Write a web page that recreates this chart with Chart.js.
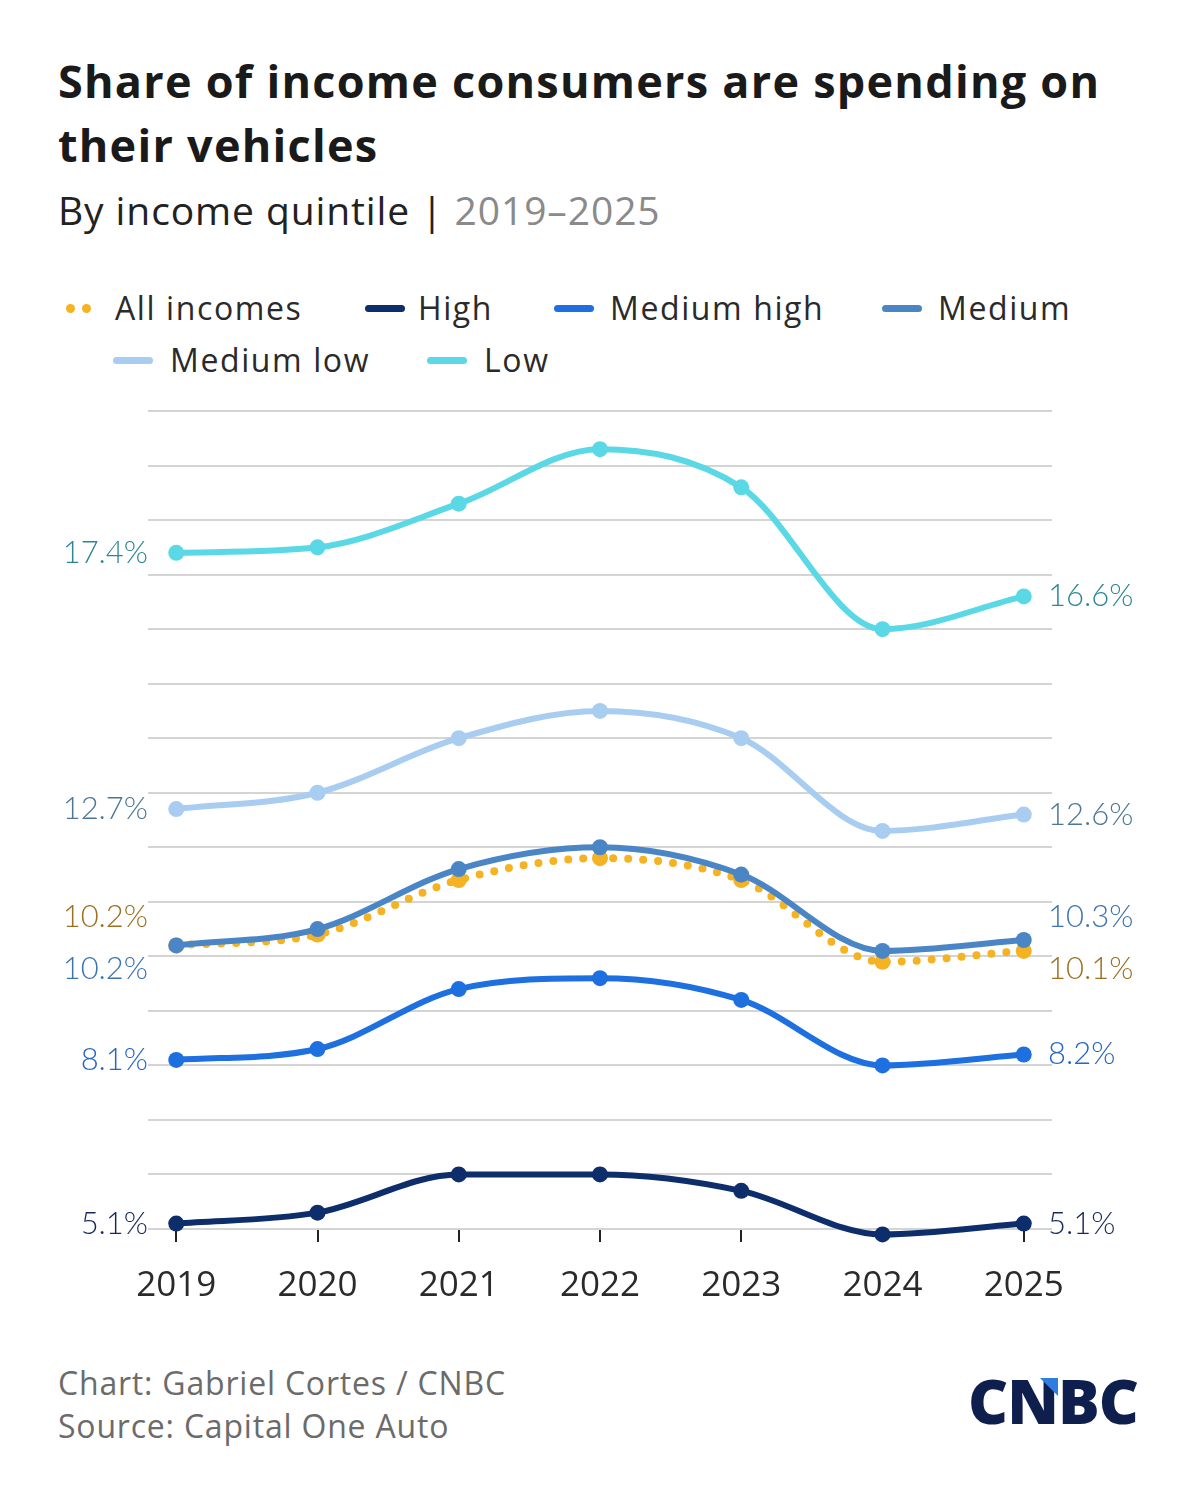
<!DOCTYPE html>
<html>
<head>
<meta charset="utf-8">
<script src="https://cdn.jsdelivr.net/npm/chart.js@4.4.1/dist/chart.umd.min.js"></script>
<style>
  body { margin: 0; background: #fff; font-family: "Open Sans", "Lato", sans-serif; }
  #page { position: relative; width: 1200px; height: 1507px; overflow: hidden; }
  .title { position: absolute; left: 58px; top: 49px; font-size: 45px; font-weight: 700; color: #1a1a1a; line-height: 64px; letter-spacing: 1.25px; white-space: nowrap; }
  .sub { position: absolute; left: 58px; top: 183px; font-size: 39px; color: #222; letter-spacing: 0.9px; white-space: nowrap; }
  .sub span { color: #8a8a8a; }
  .leg { position: absolute; font-size: 32px; color: #2a2a2a; white-space: nowrap; letter-spacing: 1.6px; }
  .sw { position: absolute; height: 7px; border-radius: 4px; width: 40px; }
  .dot { position: absolute; width: 9px; height: 9px; border-radius: 50%; background: #f5b323; }
  #wrap { position: absolute; left: 0; top: 380px; width: 1200px; height: 940px; }
  .foot { position: absolute; left: 58px; font-size: 32px; color: #6b6b6b; letter-spacing: 0.8px; white-space: nowrap; }
  .logo { position: absolute; left: 968px; top: 1358px; font-size: 62px; font-weight: 800; color: #0f1f4d; letter-spacing: -1px; }
  .tri { position: absolute; left: 1040px; top: 1378px; width: 0; height: 0; border-left: 18px solid transparent; border-top: 18px solid #2f7de1; }
</style>
</head>
<body>
<div id="page">
  <div class="title">Share of income consumers are spending on<br>their vehicles</div>
  <div class="sub">By income quintile | <span>2019–2025</span></div>

  <div class="dot" style="left:66px;top:304px"></div>
  <div class="dot" style="left:82px;top:304px"></div>
  <div class="leg" style="left:115px;top:286px">All incomes</div>
  <div class="sw" style="left:365px;top:305px;background:#0e2d6b"></div>
  <div class="leg" style="left:418px;top:286px">High</div>
  <div class="sw" style="left:554px;top:305px;background:#1e6fe0"></div>
  <div class="leg" style="left:610px;top:286px">Medium high</div>
  <div class="sw" style="left:882px;top:305px;background:#4a86c5"></div>
  <div class="leg" style="left:938px;top:286px">Medium</div>
  <div class="sw" style="left:113px;top:357px;background:#a8cdf0"></div>
  <div class="leg" style="left:170px;top:338px">Medium low</div>
  <div class="sw" style="left:427px;top:357px;background:#5ad8e6"></div>
  <div class="leg" style="left:484px;top:338px">Low</div>

  <div id="wrap"><canvas id="myChart"></canvas></div>

  <div class="foot" style="top:1361px">Chart: Gabriel Cortes / CNBC</div>
  <div class="foot" style="top:1404px">Source: Capital One Auto</div>
  <div class="logo">CNBC</div>
  <div class="tri"></div>
</div>
<script>
const years = [2019, 2020, 2021, 2022, 2023, 2024, 2025];
const allIncomes = [10.2, 10.4, 11.4, 11.8, 11.4, 9.9, 10.1];
const high = [5.1, 5.3, 6.0, 6.0, 5.7, 4.9, 5.1];
const mediumHigh = [8.1, 8.3, 9.4, 9.6, 9.2, 8.0, 8.2];
const medium = [10.2, 10.5, 11.6, 12.0, 11.5, 10.1, 10.3];
const mediumLow = [12.7, 13.0, 14.0, 14.5, 14.0, 12.3, 12.6];
const low = [17.4, 17.5, 18.3, 19.3, 18.6, 16.0, 16.6];

function pts(values) {
  return values.map((v, i) => ({ x: years[i], y: v }));
}

function series(label, values, color, labelColor, leftDy, rightDy, extra) {
  return Object.assign({
    label: label,
    data: pts(values),
    borderColor: color,
    backgroundColor: color,
    borderWidth: 6,
    pointRadius: 8,
    pointHoverRadius: 8,
    pointBorderWidth: 0,
    cubicInterpolationMode: "monotone",
    clip: false,
    order: 1,
    endLabels: { color: labelColor, left: leftDy, right: rightDy },
  }, extra || {});
}

// value labels at both ends of every line
const endLabelPlugin = {
  id: "endLabels",
  afterDatasetsDraw(chart) {
    const c = chart.ctx;
    c.save();
    c.font = "300 31px Lato, 'Open Sans', sans-serif";
    c.textBaseline = "middle";
    chart.data.datasets.forEach((ds, i) => {
      const meta = chart.getDatasetMeta(i);
      const first = meta.data[0];
      const last = meta.data[meta.data.length - 1];
      const cfg = ds.endLabels;
      c.fillStyle = cfg.color;
      c.textAlign = "right";
      c.fillText(ds.data[0].y.toFixed(1) + "%", chart.chartArea.left, first.y + cfg.left);
      c.textAlign = "left";
      c.fillText(ds.data[ds.data.length - 1].y.toFixed(1) + "%", chart.chartArea.right - 4, last.y + cfg.right);
    });
    c.restore();
  },
};

const ctx = document.getElementById("myChart");

var chart = new Chart(ctx, {
  type: "line",
  data: {
    datasets: [
      series("Low", low, "#5ad8e6", "#2b8796", 0, 0),
      series("Medium low", mediumLow, "#a8cdf0", "#4d7795", 0, 0),
      series("Medium", medium, "#4a86c5", "#3b74b0", 24, -23),
      series("All incomes", allIncomes, "#f5b323", "#9c7020", -28, 18, {
        borderDash: [0, 15],
        borderCapStyle: "round",
        borderWidth: 8,
        pointRadius: 8,
        order: 5,
      }),
      series("Medium high", mediumHigh, "#1e6fe0", "#2566c4", 0, 0),
      series("High", high, "#0e2d6b", "#17295a", 0, 0),
    ],
  },
  plugins: [endLabelPlugin],
  options: {
    responsive: true,
    maintainAspectRatio: false,
    animation: false,
    layout: { padding: { left: 148, right: 148, top: 31, bottom: 0 } },
    plugins: {
      legend: { display: false },
      tooltip: { enabled: false },
    },
    scales: {
      x: {
        type: "linear",
        min: 2018.8,
        max: 2025.2,
        border: { display: false },
        grid: { drawOnChartArea: false, drawTicks: true, tickLength: 13, color: "#222", lineWidth: 2 },
        afterBuildTicks: (scale) => {
          scale.ticks = years.map((v) => ({ value: v }));
        },
        afterFit: (scale) => {
          scale.height = 91;
        },
        ticks: {
          padding: 23,
          color: "#2a2a2a",
          font: { size: 35, family: "'Open Sans'" },
          callback: (v) => String(v),
        },
      },
      y: {
        min: 5,
        max: 20,
        border: { display: false },
        grid: { color: "#d4d4d4", lineWidth: 2, drawTicks: false },
        ticks: { display: false, stepSize: 1 },
        afterFit: (scale) => {
          scale.width = 0;
        },
      },
    },
  },
});
</script>
</body>
</html>
